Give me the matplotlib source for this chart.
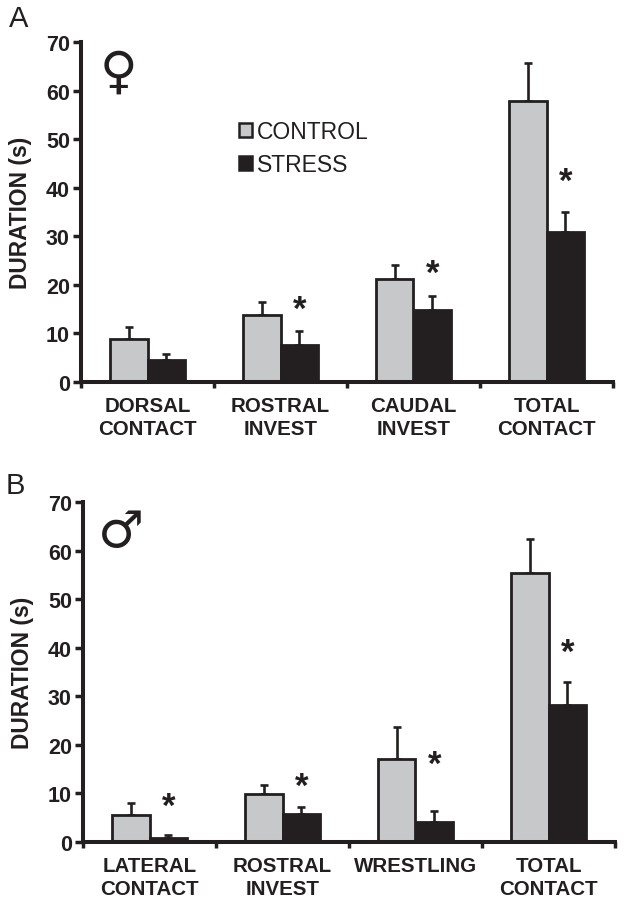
import matplotlib
matplotlib.use("Agg")
import matplotlib.pyplot as plt
import numpy as np
from matplotlib.patches import Patch

plt.rcParams['font.family'] = ['Liberation Sans', 'DejaVu Sans']

# values
labels_a = ["DORSAL\nCONTACT", "ROSTRAL\nINVEST", "CAUDAL\nINVEST", "TOTAL\nCONTACT"]
control_a = [8.8, 13.8, 21.3, 57.8]
stress_a = [4.5, 7.6, 14.8, 30.8]
control_top_a = [11.4, 16.5, 24, 65.7]
stress_top_a = [5.8, 10.5, 17.8, 35]
star_a = [None, 14.9, 22.4, 41.4]

labels_b = ["LATERAL\nCONTACT", "ROSTRAL\nINVEST", "WRESTLING", "TOTAL\nCONTACT"]
control_b = [5.5, 9.8, 17, 55.4]
stress_b = [0.9, 5.7, 4.2, 28.2]
control_top_b = [8, 11.8, 23.6, 62.3]
stress_top_b = [1.4, 7.3, 6.4, 33]
star_b = [7.4, 11.4, 16, 39]

ticks = [0, 10, 20, 30, 40, 50, 60, 70]
ink = "#231f20"
gray = "#c7c8ca"
W, H = 624, 904


def panel(box, labels, control, stress, control_top, stress_top, stars):
    # box is left, top, right, bottom in pixels
    l, t, r, b = box
    ax = fig.add_axes([l / W, 1 - b / H, (r - l) / W, (b - t) / H])
    x = np.arange(4)
    w = 0.285
    ax.bar(x - w / 2, control, w, color=gray, edgecolor=ink, linewidth=2, zorder=2)
    ax.bar(x + w / 2, stress, w, color=ink, edgecolor=ink, linewidth=2, zorder=2)
    for i in range(4):
        ax.errorbar(x[i] - w / 2, control[i], yerr=[[0], [control_top[i] - control[i]]],
                    color=ink, elinewidth=1.9, capsize=3, capthick=1.9, zorder=1)
        ax.errorbar(x[i] + w / 2, stress[i], yerr=[[0], [stress_top[i] - stress[i]]],
                    color=ink, elinewidth=1.9, capsize=3, capthick=1.9, zorder=1)
        if stars[i] is not None:
            ax.text(x[i] + w / 2 + 0.005, stars[i], "*", ha="center", va="center", fontsize=25,
                    fontweight="bold", color=ink)
    ax.set_xlim(-0.5, 3.5)
    ax.set_ylim(0, 70)
    ax.set_yticks(ticks)
    ax.set_xticks([-0.5, 0.5, 1.5, 2.5, 3.5])
    ax.set_xticklabels([])
    ax.set_xticks(x, labels, minor=True)
    ax.tick_params(axis="x", which="minor", length=0, pad=10, labelsize=14.8, labelcolor=ink)
    ax.tick_params(axis="x", which="major", length=4, width=2.5, color=ink)
    ax.tick_params(axis="y", length=6, width=2.5, color=ink, labelsize=15.5, labelcolor=ink, pad=2)
    for lab in ax.get_xticklabels(minor=True) + ax.get_yticklabels():
        lab.set_fontweight("bold")
    for lab in ax.get_xticklabels(minor=True):
        lab.set_linespacing(1.26)
    ax.set_ylabel("DURATION (s)", fontsize=16.4, fontweight="bold", color=ink, labelpad=10)
    ax.spines["top"].set_visible(False)
    ax.spines["right"].set_visible(False)
    ax.spines["left"].set_linewidth(2.9)
    ax.spines["bottom"].set_linewidth(2.9)
    ax.spines["left"].set_color(ink)
    ax.spines["bottom"].set_color(ink)
    return ax


fig = plt.figure(figsize=(W / 100, H / 100), dpi=100, facecolor="white")
ax_a = panel((81, 43, 613, 383), labels_a, control_a, stress_a, control_top_a, stress_top_a, star_a)
ax_b = panel((83, 503, 615, 843), labels_b, control_b, stress_b, control_top_b, stress_top_b, star_b)

handles = [Patch(facecolor=gray, edgecolor=ink, linewidth=1.8, label="CONTROL"),
           Patch(facecolor=ink, edgecolor=ink, linewidth=1.8, label="STRESS")]
ax_a.legend(handles=handles, loc="upper left", bbox_to_anchor=(0.297, 0.77), frameon=False,
            fontsize=16.5, labelcolor=ink, handlelength=0.55, handleheight=0.55,
            handletextpad=0.25, labelspacing=0.42, borderpad=0, borderaxespad=0)

fig.text(9 / W, 1 - 19 / H, "A", fontsize=21, color=ink, ha="left", va="center")
fig.text(6 / W, 1 - 486 / H, "B", fontsize=21, color=ink, ha="left", va="center")
fig.text(118 / W, 1 - 74 / H, "\u2640", fontsize=37, color=ink, ha="center", va="center",
         family=["DejaVu Sans"])
fig.text(121 / W, 1 - 533 / H, "\u2642", fontsize=37, color=ink, ha="center", va="center",
         family=["DejaVu Sans"])

fig.savefig("out.png", dpi=100)
